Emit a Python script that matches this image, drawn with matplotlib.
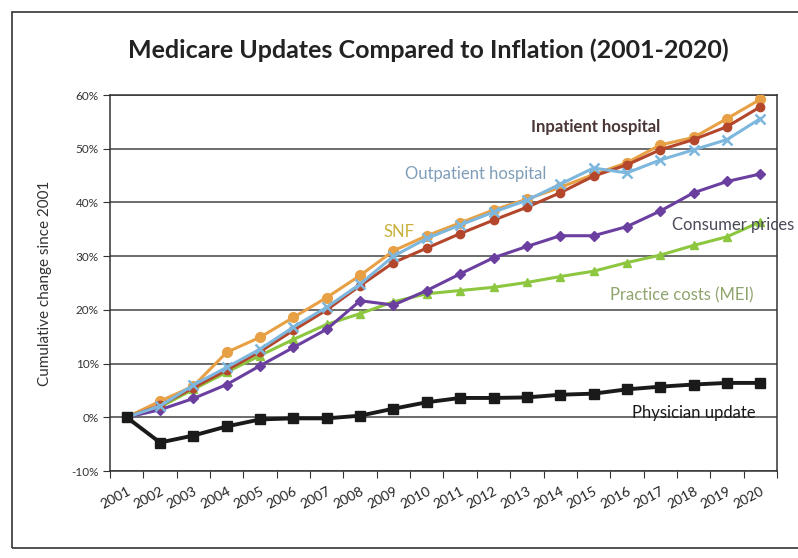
import matplotlib
matplotlib.use("Agg")
import matplotlib.pyplot as plt
from matplotlib.patches import Rectangle

years = [str(y) for y in range(2001, 2021)]
inpatient = [0, 2.2, 5.5, 8.8, 12.2, 16.2, 20.0, 24.5, 28.8, 31.5, 34.2, 36.7, 39.1, 41.8, 44.9, 47.0, 49.8, 51.7, 54.1, 57.8]
outpatient = [0, 2.1, 6.0, 9.3, 12.7, 16.8, 20.5, 24.8, 30.0, 33.3, 35.8, 38.2, 40.4, 43.4, 46.4, 45.5, 47.9, 49.8, 51.7, 55.6]
snf = [0, 3.0, 5.8, 12.1, 14.9, 18.6, 22.3, 26.4, 31.0, 33.8, 36.2, 38.6, 40.6, 42.8, 45.2, 47.4, 50.7, 52.1, 55.6, 59.2]
consumer = [0, 1.4, 3.5, 6.1, 9.6, 13.0, 16.4, 21.7, 20.9, 23.6, 26.7, 29.7, 31.8, 33.8, 33.8, 35.5, 38.4, 41.8, 43.9, 45.3]
mei = [0, 1.9, 5.2, 8.4, 11.5, 14.5, 17.3, 19.3, 21.5, 23.0, 23.6, 24.2, 25.1, 26.2, 27.2, 28.8, 30.2, 32.0, 33.6, 36.4]
physician = [0, -4.7, -3.4, -1.7, -0.4, -0.2, -0.2, 0.3, 1.6, 2.8, 3.6, 3.6, 3.7, 4.2, 4.4, 5.2, 5.7, 6.1, 6.4, 6.4]
yticks = [-10, 0, 10, 20, 30, 40, 50, 60]

plt.rcParams['font.family'] = ['Lato', 'DejaVu Sans']

fig = plt.figure(figsize=(7.98, 5.58), dpi=100)
fig.patch.set_facecolor('white')
ax = fig.add_axes([110/798, 1-471/558, (777-110)/798, (471-95)/558])

x = list(range(len(years)))
lw = 2.2
ms = 6
ax.plot(x, mei, color='#8DC63F', marker='^', ms=ms, lw=lw, zorder=3)
ax.plot(x, consumer, color='#6B3FA0', marker='D', ms=ms-1, lw=lw, zorder=3)
ax.plot(x, snf, color='#E8A045', marker='o', ms=ms+1, lw=lw, zorder=4)
ax.plot(x, inpatient, color='#B4462C', marker='o', ms=ms, lw=lw, zorder=5)
ax.plot(x, outpatient, color='#7DB7DE', marker='x', ms=ms+1, mew=1.8, lw=lw, zorder=6)
ax.plot(x, physician, color='#1a1a1a', marker='s', ms=ms+1, lw=lw+0.6, zorder=6)

ax.set_xlim(-0.5, len(years) - 0.5)
ax.set_ylim(-10, 60)
ax.set_yticks(yticks)
ax.set_yticklabels([f"{v}%" for v in yticks], fontsize=8.5, color='#333333')
ax.yaxis.grid(True, color='#444444', lw=1.1)
ax.set_axisbelow(True)

ax.set_xticks([i - 0.5 for i in range(len(years) + 1)], minor=False)
ax.set_xticklabels([''] * (len(years) + 1))
ax.set_xticks(x, minor=True)
ax.set_xticklabels(years, minor=True, rotation=28, ha='right', rotation_mode='anchor',
                   fontsize=10, color='#222222')
ax.tick_params(axis='x', which='minor', length=0, pad=10)
ax.tick_params(axis='x', which='major', length=5, color='#333333')
ax.tick_params(axis='y', length=5, color='#333333', pad=3)
for s in ax.spines.values():
    s.set_color('#333333')
    s.set_linewidth(1.1)

ax.set_ylabel('Cumulative change since 2001', fontsize=11, color='#333333', labelpad=14)

fig.text(428/798, 1-50/558, 'Medicare Updates Compared to Inflation (2001-2020)',
         ha='center', va='center', fontsize=18, fontweight='bold', color='#222222')

def lab(px, py, s, c, ha='left', fs=12, **kw):
    fig.text(px/798, 1-py/558, s, ha=ha, va='center', fontsize=fs, color=c, **kw)

lab(531, 127, 'Inpatient hospital', '#4a3636', fontweight='bold', fs=12)
lab(405, 174, 'Outpatient hospital', '#7f9db8')
lab(383, 232, 'SNF', '#c9b13e')
lab(672, 225, 'Consumer prices', '#4a4a5a')
lab(610, 295, 'Practice costs (MEI)', '#8fa46e')
lab(632, 413, 'Physician update', '#1a1a1a')

fig.patches.append(Rectangle((12/798, 1-548/558), 1.0, (548-12)/558,
                             transform=fig.transFigure, fill=False,
                             edgecolor='#333333', lw=1.2, clip_on=False))

fig.savefig('out.png', dpi=100, facecolor='white')
